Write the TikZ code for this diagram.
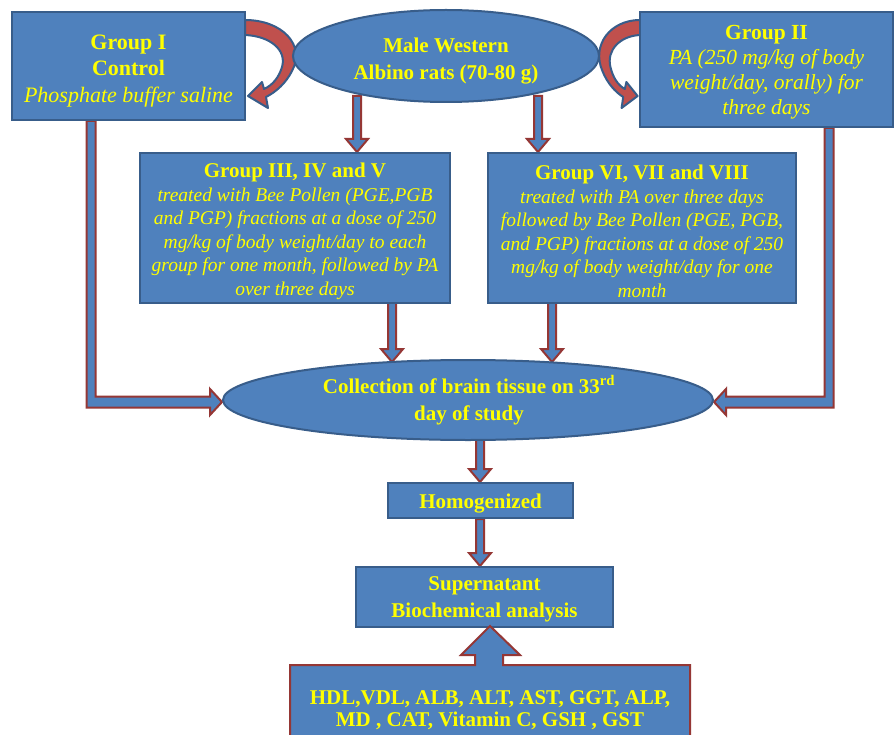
\documentclass[tikz,border=0pt]{standalone}
\usepackage{fontspec}
\setmainfont{Liberation Serif}
\usetikzlibrary{calc,shapes.geometric}
\pgfdeclarelayer{bg}
\pgfdeclarelayer{paper}
\pgfsetlayers{paper,bg,main}
\definecolor{boxblue}{HTML}{4F81BD}
\definecolor{boxedge}{HTML}{385D8A}
\definecolor{arrred}{HTML}{953735}
\definecolor{curvred}{HTML}{C0504D}
\definecolor{txtyellow}{HTML}{FFFF00}
\tikzset{
  box/.style={draw=boxedge, fill=boxblue, line width=2pt, inner sep=0pt},
  oval/.style={ellipse, draw=boxedge, fill=boxblue, line width=2pt, inner sep=0pt},
  txt/.style={text=txtyellow, align=center, inner sep=0pt},
  fatarrow/.style={draw=arrred, fill=boxblue, line width=2pt, line join=miter},
  curvearrow/.style={draw=boxedge, fill=curvred, line width=2pt, line join=round},
}
\newcommand{\fatdown}[2]{%
  \draw[fatarrow] let \p1=(#1), \p2=(#2) in
    (\x1-4pt,\y1) -- (\x1-4pt,\y2+13pt) -- (\x1-11pt,\y2+13pt) -- (\x1,\y2)
    -- (\x1+11pt,\y2+13pt) -- (\x1+4pt,\y2+13pt) -- (\x1+4pt,\y1) -- cycle;}
\begin{document}
\begin{tikzpicture}[x=1pt,y=-1pt]
\useasboundingbox (0,0) rectangle (896,735);
\begin{pgfonlayer}{paper}
\fill[white] (0,0) rectangle (896,735);
\end{pgfonlayer}

% frames
\node[box, minimum width=233, minimum height=108] (g1) at (128.5,66) {};
\node[oval, minimum width=306, minimum height=92] (top) at (446,56) {};
\node[box, minimum width=253, minimum height=115] (g2) at (766.5,69.5) {};
\node[box, minimum width=310, minimum height=150] (g3) at (295,228) {};
\node[box, minimum width=308, minimum height=150] (g6) at (642,228) {};
\node[oval, minimum width=490, minimum height=80] (coll) at (468,400) {};
\node[box, minimum width=185, minimum height=35] (hom) at (480.5,500.5) {};
\node[box, minimum width=257, minimum height=60] (sup) at (484.5,597) {};

% texts
\node[txt, font=\fontsize{22}{26.5}\selectfont] (g1t) at ($(g1)+(0,5)$)
  {\textbf{Group I}\\\textbf{Control}\\\textit{Phosphate buffer saline}};
\node[txt, font=\fontsize{21}{27}\selectfont\bfseries] (topt) at ($(top)+(0,5)$)
  {Male Western\\Albino rats (70-80 g)};
\node[txt, font=\fontsize{21.5}{25}\selectfont] (g2t) at ($(g2)+(0,3)$)
  {\textbf{Group II}\\\textit{PA (250 mg/kg of body}\\\textit{weight/day, orally) for}\\\textit{three days}};
\node[txt, font=\fontsize{19.5}{23.5}\selectfont] (g3t) at ($(g3)+(0,3.5)$)
  {{\fontsize{21}{23.5}\selectfont\bfseries Group III, IV and V}\\
   \textit{treated with Bee Pollen (PGE,PGB}\\
   \textit{and PGP) fractions at a dose of 250}\\
   \textit{mg/kg of body weight/day to each}\\
   \textit{group for one month, followed by PA}\\
   \textit{over three days}};
\node[txt, font=\fontsize{19.5}{23.5}\selectfont] (g6t) at ($(g6)+(0,3.5)$)
  {{\fontsize{21}{23.5}\selectfont\bfseries Group VI, VII and VIII}\\
   \textit{treated with PA over three days}\\
   \textit{followed by Bee Pollen (PGE, PGB,}\\
   \textit{and PGP) fractions at a dose of 250}\\
   \textit{mg/kg of body weight/day for one}\\
   \textit{month}};
\node[txt, font=\fontsize{21}{27}\selectfont\bfseries] (collt) at ($(coll)+(1,0)$)
  {Collection of brain tissue on 33\textsuperscript{rd}\\day of study};
\node[txt, font=\fontsize{21}{26}\selectfont\bfseries] (homt) at ($(hom)+(0,3)$) {Homogenized};
\node[txt, font=\fontsize{21}{27}\selectfont\bfseries] (supt) at ($(sup)+(0,2)$)
  {Supernatant\\Biochemical analysis};

% bottom callout
\draw[fatarrow] (290,665) -- (475,665) -- (475,655) -- (461,655) -- (490,626) -- (520,655)
  -- (503,655) -- (503,665) -- (690,665) -- (690,745) -- (290,745) -- cycle;
\node[txt, font=\fontsize{21}{22}\selectfont\bfseries] (meas) at (490,710)
  {HDL,VDL, ALB, ALT, AST, GGT, ALP,\\MD , CAT, Vitamin C, GSH , GST};

\begin{pgfonlayer}{bg}
% curved arrows
\draw[curvearrow] (245,20) .. controls (282,20) and (306,45) .. (292,71)
  .. controls (286,83) and (276,92) .. (266,97) -- (268,108) -- (248,96) -- (262,82) -- (264,89)
  .. controls (273,85) and (279,77) .. (282,67) .. controls (287,50) and (270,36) .. (245,35) -- cycle;
\draw[curvearrow] (640,20) .. controls (610.4,20) and (591.2,45) .. (602.4,71)
  .. controls (607.2,83) and (615.2,92) .. (623.2,97) -- (621.6,108) -- (637.6,96) -- (626.4,82) -- (624.8,89)
  .. controls (617.6,85) and (612.8,77) .. (610.4,67) .. controls (606.4,50) and (620,36) .. (640,35) -- cycle;

% straight fat arrows
\coordinate (t3) at ($(top.south)+(-89,-7)$);
\coordinate (t6) at ($(top.south)+(92,-7)$);
\fatdown{t3}{g3.north -| t3}
\fatdown{t6}{g6.north -| t6}
\coordinate (b3) at ($(g3.south)+(97,-2)$);
\coordinate (b6) at ($(g6.south)+(-90,-2)$);
\coordinate (c3) at ($(coll.center)+(-76,-38)$);
\coordinate (c6) at ($(coll.center)+(84,-38)$);
\fatdown{b3}{c3}
\fatdown{b6}{c6}
\coordinate (cb) at ($(coll.south)+(12,-5)$);
\fatdown{cb}{hom.north -| cb}
\coordinate (hb) at ($(hom.south)+(-0.5,0)$);
\fatdown{hb}{sup.north -| hb}

% elbow arrows
\coordinate (l1) at ($(g1.south west)+(80,0)$);
\coordinate (r1) at ($(g2.south east)+(-65,0)$);
\draw[fatarrow] let \p1=(l1), \p2=($(coll.west)+(0,2)$) in
  (\x1-4.5pt,\y1) -- (\x1-4.5pt,\y2-5.5pt) -- (\x2-12pt,\y2-5.5pt) -- (\x2-12pt,\y2-13pt) -- (\x2,\y2)
  -- (\x2-12pt,\y2+13pt) -- (\x2-12pt,\y2+5.5pt) -- (\x1+4.5pt,\y2+5.5pt) -- (\x1+4.5pt,\y1) -- cycle;
\draw[fatarrow] let \p1=(r1), \p2=($(coll.east)+(0,2)$) in
  (\x1+4.5pt,\y1) -- (\x1+4.5pt,\y2-5.5pt) -- (\x2+12pt,\y2-5.5pt) -- (\x2+12pt,\y2-13pt) -- (\x2,\y2)
  -- (\x2+12pt,\y2+13pt) -- (\x2+12pt,\y2+5.5pt) -- (\x1-4.5pt,\y2+5.5pt) -- (\x1-4.5pt,\y1) -- cycle;
\end{pgfonlayer}
\end{tikzpicture}
\end{document}
